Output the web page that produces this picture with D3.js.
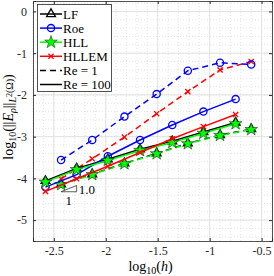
<!DOCTYPE html>
<html>
<head>
<meta charset="utf-8">
<script src="https://cdn.jsdelivr.net/npm/d3@7"></script>
<style>
  body { margin: 0; background: #fff; }
  text { font-family: "Liberation Serif", "DejaVu Serif", serif; }
</style>
</head>
<body>
<div class="chart"></div>
<script>
// log10(h) values for both Reynolds numbers
const hRe1 = [-2.43, -2.13, -1.82, -1.51, -1.21, -0.90, -0.60];
const hRe100 = [-2.58, -2.28, -1.98, -1.67, -1.36, -1.06, -0.75];

// log10 error, Re = 1 (dashed)
const lfRe1 = [-4.14, -3.90, -3.64, -3.40, -3.16, -2.96, -2.82];
const roeRe1 = [-3.56, -3.08, -2.52, -1.98, -1.42, -1.23, -1.27];
const hllRe1 = [-4.15, -3.91, -3.65, -3.41, -3.17, -2.97, -2.83];
const hllemRe1 = [-4.01, -3.53, -3.01, -2.45, -1.92, -1.40, -1.20];

// log10 error, Re = 100 (solid)
const lfRe100 = [-4.06, -3.76, -3.54, -3.30, -3.11, -2.89, -2.66];
const roeRe100 = [-4.21, -3.91, -3.47, -3.08, -2.72, -2.40, -2.10];
const hllRe100 = [-4.09, -3.79, -3.57, -3.33, -3.14, -2.92, -2.69];
const hllemRe100 = [-4.31, -4.01, -3.71, -3.38, -3.05, -2.76, -2.47];

const xTicks = [-2.5, -2, -1.5, -1, -0.5];
const yTicks = [0, -1, -2, -3, -4, -5];

const width = 274;
const height = 276;
const margin = {top: 1, right: 2, bottom: 35, left: 33};

const x = d3.scaleLinear().domain([-2.7, -0.4]).range([margin.left, width - margin.right]);
const y = d3.scaleLinear().domain([-5.5, 0.25]).range([height - margin.bottom, margin.top]);

const svg = d3.select('.chart')
  .append('svg')
  .attr('width', width)
  .attr('height', height);

// minor grid
const xMinor = d3.range(-2.7, -0.39, 0.1).map(v => +v.toFixed(2));
const yMinor = d3.range(-5.4, 0.25, 0.2).map(v => +v.toFixed(2));
svg.append('g').selectAll('line')
  .data(xMinor)
  .enter().append('line')
  .attr('x1', d => x(d)).attr('x2', d => x(d))
  .attr('y1', y.range()[0]).attr('y2', y.range()[1])
  .attr('stroke', '#d4d4d4').attr('stroke-width', 0.6).attr('stroke-dasharray', '1,2');
svg.append('g').selectAll('line')
  .data(yMinor)
  .enter().append('line')
  .attr('y1', d => y(d)).attr('y2', d => y(d))
  .attr('x1', x.range()[0]).attr('x2', x.range()[1])
  .attr('stroke', '#d4d4d4').attr('stroke-width', 0.6).attr('stroke-dasharray', '1,2');

// major grid
svg.append('g').selectAll('line')
  .data(xTicks)
  .enter().append('line')
  .attr('x1', d => x(d)).attr('x2', d => x(d))
  .attr('y1', y.range()[0]).attr('y2', y.range()[1])
  .attr('stroke', '#dcdcdc').attr('stroke-width', 0.8);
svg.append('g').selectAll('line')
  .data(yTicks)
  .enter().append('line')
  .attr('y1', d => y(d)).attr('y2', d => y(d))
  .attr('x1', x.range()[0]).attr('x2', x.range()[1])
  .attr('stroke', '#dcdcdc').attr('stroke-width', 0.8);

// axes with inward ticks on all four sides
const fmt = d => d3.format('')(d).replace('−', '-');
const axBottom = svg.append('g')
  .attr('transform', `translate(0,${y.range()[0]})`)
  .call(d3.axisBottom(x).tickValues(xTicks).tickSize(-3).tickPadding(5).tickFormat(fmt));
const axLeft = svg.append('g')
  .attr('transform', `translate(${x.range()[0]},0)`)
  .call(d3.axisLeft(y).tickValues(yTicks).tickSize(-3).tickPadding(6).tickFormat(fmt));
const axTop = svg.append('g')
  .attr('transform', `translate(0,${y.range()[1]})`)
  .call(d3.axisTop(x).tickValues(xTicks).tickSize(-3).tickFormat(''));
const axRight = svg.append('g')
  .attr('transform', `translate(${x.range()[1]},0)`)
  .call(d3.axisRight(y).tickValues(yTicks).tickSize(-3).tickFormat(''));
[axBottom, axLeft, axTop, axRight].forEach(g => {
  g.selectAll('path').attr('stroke', '#262626').attr('stroke-width', 0.8);
  g.selectAll('line').attr('stroke', '#262626');
  g.selectAll('text').attr('font-size', 12).attr('fill', '#262626')
    .style('font-family', '"Liberation Serif", serif');
});

const series = [
  {xs: hRe1, ys: lfRe1, color: 'black', sym: 'tri', dash: '6,4'},
  {xs: hRe1, ys: hllRe1, color: '#00ff00', sym: 'star', dash: '6,4'},
  {xs: hRe1, ys: hllemRe1, color: 'red', sym: 'x', dash: '6,4'},
  {xs: hRe1, ys: roeRe1, color: 'blue', sym: 'circ', dash: '6,4'},
  {xs: hRe100, ys: lfRe100, color: 'black', sym: 'tri', dash: null},
  {xs: hRe100, ys: roeRe100, color: 'blue', sym: 'circ', dash: null},
  {xs: hRe100, ys: hllRe100, color: '#00ff00', sym: 'star', dash: null},
  {xs: hRe100, ys: hllemRe100, color: 'red', sym: 'x', dash: null}
];

function marker(g, sym, color, cx, cy) {
  if (sym === 'circ') {
    g.append('circle').attr('cx', cx).attr('cy', cy).attr('r', 3.6)
      .attr('fill', 'none').attr('stroke', color).attr('stroke-width', 1.3);
  } else if (sym === 'tri') {
    g.append('path').attr('d', d3.symbol(d3.symbolTriangle, 34)())
      .attr('transform', `translate(${cx},${cy})`)
      .attr('fill', 'none').attr('stroke', color).attr('stroke-width', 1.3);
  } else if (sym === 'star') {
    g.append('path').attr('d', d3.symbol(d3.symbolStar, 50)())
      .attr('transform', `translate(${cx},${cy})`)
      .attr('fill', color).attr('stroke', '#104010').attr('stroke-width', 0.6);
  } else {
    const r = 2.6;
    g.append('path')
      .attr('d', `M${cx - r},${cy - r}L${cx + r},${cy + r}M${cx - r},${cy + r}L${cx + r},${cy - r}`)
      .attr('fill', 'none').attr('stroke', color).attr('stroke-width', 1.3);
  }
}

const line = d3.line().x(d => x(d[0])).y(d => y(d[1]));
series.forEach(s => {
  const pts = s.xs.map((v, i) => [v, s.ys[i]]);
  svg.append('path')
    .attr('d', line(pts))
    .attr('fill', 'none')
    .attr('stroke', s.color)
    .attr('stroke-width', 1.5)
    .attr('stroke-dasharray', s.dash);
  const g = svg.append('g');
  pts.forEach(p => marker(g, s.sym, s.color, x(p[0]), y(p[1])));
});

// slope triangle, slope 1.0
const tri = {x0: -2.43, dx: 0.15, y0: -4.32, slope: 1.0};
const tp = [[tri.x0, tri.y0], [tri.x0 + tri.dx, tri.y0 + tri.slope * tri.dx], [tri.x0 + tri.dx, tri.y0]];
svg.append('path')
  .attr('d', line(tp) + 'Z')
  .attr('fill', 'none').attr('stroke', '#333').attr('stroke-width', 0.8);
svg.append('text')
  .attr('x', x(tri.x0 + tri.dx) + 2).attr('y', y(tri.y0 + tri.slope * tri.dx / 2) + 5)
  .attr('font-size', 13).text('1.0');
svg.append('text')
  .attr('x', x(tri.x0 + tri.dx / 2)).attr('y', y(tri.y0) + 13)
  .attr('text-anchor', 'middle').attr('font-size', 13).text('1');

// legend
const legendItems = [
  {label: 'LF', color: 'black', sym: 'tri', dash: null},
  {label: 'Roe', color: 'blue', sym: 'circ', dash: null},
  {label: 'HLL', color: '#00ff00', sym: 'star', dash: null},
  {label: 'HLLEM', color: 'red', sym: 'x', dash: null},
  {label: 'Re = 1', color: 'black', sym: null, dash: '6,4'},
  {label: 'Re = 100', color: 'black', sym: null, dash: null}
];
const lg = svg.append('g');
lg.append('rect')
  .attr('x', 37.5).attr('y', 4.5).attr('width', 74).attr('height', 87)
  .attr('fill', 'white').attr('stroke', '#262626').attr('stroke-width', 0.8);
legendItems.forEach((d, i) => {
  const cy = 14 + i * 14.1;
  lg.append('line')
    .attr('x1', 40).attr('x2', 62).attr('y1', cy).attr('y2', cy)
    .attr('stroke', d.color).attr('stroke-width', 1.5)
    .attr('stroke-dasharray', d.dash);
  if (d.sym) marker(lg, d.sym, d.color, 51, cy);
  lg.append('text')
    .attr('x', 63).attr('y', cy + 4.5)
    .attr('font-size', 13).text(d.label);
});

// axis labels
svg.append('text')
  .attr('x', x((x.domain()[0] + x.domain()[1]) / 2) - 2)
  .attr('y', 271)
  .attr('text-anchor', 'middle')
  .attr('font-size', 14)
  .html('log<tspan font-size="10" dy="3">10</tspan><tspan dy="-3">(</tspan><tspan font-style="italic">h</tspan>)');

svg.append('text')
  .attr('transform', `translate(13,${(y.range()[0] + y.range()[1]) / 2 - 4}) rotate(-90)`)
  .attr('text-anchor', 'middle')
  .attr('font-size', 14)
  .html('log<tspan font-size="10" dy="3">10</tspan><tspan dy="-3">(||</tspan><tspan font-style="italic">E</tspan><tspan font-style="italic" font-size="10" dy="3">ρ</tspan><tspan dy="-3">||</tspan><tspan font-style="italic" font-size="10" dy="3">L</tspan><tspan font-size="8" dy="-4">2</tspan><tspan font-size="10" dy="1">(Ω)</tspan><tspan dy="0">)</tspan>');
</script>
</body>
</html>
